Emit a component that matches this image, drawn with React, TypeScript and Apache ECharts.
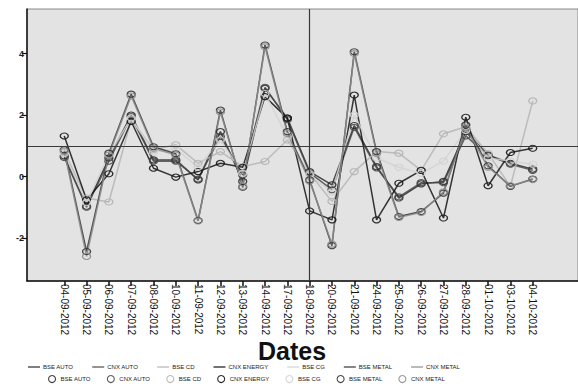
import React, { useEffect, useRef } from "react";
import * as echarts from "echarts";

const dates = [
  "04-09-2012", "05-09-2012", "06-09-2012", "07-09-2012", "08-09-2012", "10-09-2012",
  "11-09-2012", "12-09-2012", "13-09-2012", "14-09-2012", "17-09-2012", "18-09-2012",
  "20-09-2012", "21-09-2012", "24-09-2012", "25-09-2012", "26-09-2012", "27-09-2012",
  "28-09-2012", "01-10-2012", "03-10-2012", "04-10-2012",
];

const bseAuto = [0.67, -0.97, 0.6, 2.0, 0.54, 0.54, -0.11, 1.46, -0.16, 2.87, 1.9, 0.16, -0.27, 1.66, 0.32, -0.7, -0.24, -0.16, 1.46, 0.7, 0.43, 0.24];
const cnxAuto = [0.62, -1.0, 0.5, 1.95, 0.5, 0.5, -0.08, 1.3, 0.05, 2.9, 1.85, 0.12, -0.43, 1.6, 0.28, -0.66, -0.2, -0.2, 1.32, 0.68, 0.4, 0.2];
const bseCd = [0.8, -0.7, -0.83, 1.85, 0.87, 1.03, 0.43, 0.81, 0.32, 0.49, 1.19, 0.1, -0.81, 0.16, 0.81, 0.76, 0.2, 1.39, 1.62, 0.75, -0.32, 2.46];
const cnxEnergy = [1.32, -0.76, 0.09, 1.79, 0.27, -0.02, 0.16, 0.43, 0.3, 2.6, 1.9, -1.12, -1.41, 2.65, -1.41, -0.22, 0.2, -1.35, 1.93, -0.3, 0.78, 0.92];
const bseCg = [0.75, -0.85, 0.7, 1.9, 0.8, 0.9, 0.3, 1.19, 0.1, 2.7, 1.3, 0.05, -0.5, 2.0, 0.6, 0.3, 0.1, 0.5, 1.5, 0.6, 0.5, 0.4];
const bseMetal = [0.87, -2.44, 0.76, 2.68, 0.97, 0.74, -1.43, 2.16, -0.35, 4.28, 1.46, -0.11, -2.25, 4.06, 0.81, -1.3, -1.14, -0.54, 1.68, 0.35, -0.32, -0.08];
const cnxMetal = [0.83, -2.6, 0.7, 2.62, 0.92, 0.7, -1.45, 2.1, -0.32, 4.22, 1.4, -0.15, -2.2, 4.0, 0.75, -1.33, -1.17, -0.5, 1.58, 0.3, -0.3, -0.1];

const seriesNames = ["BSE AUTO", "CNX AUTO", "BSE CD", "CNX ENERGY", "BSE CG", "BSE METAL", "CNX METAL"];
const seriesValues = [bseAuto, cnxAuto, bseCd, cnxEnergy, bseCg, bseMetal, cnxMetal];
const lineColors = ["#2a2a2a", "#4a4a4a", "#b4b4b4", "#151515", "#d2d2d2", "#333333", "#8c8c8c"];

const yTicks = [-2, 0, 2, 4];
const refY = 1;
const refDate = "18-09-2012";
const axisTitle = "Dates";

const FONT = "'Liberation Sans', Arial, sans-serif";

export default function App() {
  const ref = useRef<HTMLDivElement>(null);

  useEffect(() => {
    if (!ref.current) return;
    const chart = echarts.init(ref.current, undefined, { renderer: "svg" });
    const idx = dates.map((_, i) => i);

    const lineSeries = seriesNames.map((name, s) => ({
      name: "L:" + name,
      type: "line",
      symbol: "none",
      data: seriesValues[s].map((v, i) => [i, v]),
      lineStyle: { color: lineColors[s], width: 1.5, opacity: 0.85 },
      itemStyle: { color: lineColors[s] },
      z: 3,
      ...(s === 0
        ? {
            markLine: {
              silent: true,
              symbol: "none",
              label: { show: false },
              lineStyle: { color: "#3a3a3a", width: 1.2, type: "solid", opacity: 1 },
              data: [{ yAxis: refY }, { xAxis: dates.indexOf(refDate) }],
            },
          }
        : {}),
    }));

    const markerSeries = seriesNames.map((name, s) => ({
      name: "M:" + name,
      type: "scatter",
      symbol: "circle",
      symbolSize: [8, 6],
      data: seriesValues[s].map((v, i) => [i, v]),
      itemStyle: { color: "rgba(0,0,0,0)", borderColor: lineColors[s], borderWidth: 1.2, opacity: 0.9 },
      z: 4,
    }));

    chart.setOption({
      animation: false,
      backgroundColor: "#ffffff",
      title: {
        text: axisTitle,
        left: 258,
        top: 338,
        padding: 0,
        textStyle: { fontFamily: FONT, fontWeight: "bold", fontSize: 25, color: "#111" },
      },
      grid: {
        left: 27,
        top: 9,
        right: -10,
        bottom: 109,
        show: true,
        backgroundColor: "#e3e3e3",
        borderColor: "#8a8a8a",
        borderWidth: 1,
      },
      legend: [
        {
          data: seriesNames.map((n) => "L:" + n),
          formatter: (n: string) => n.slice(2),
          left: 28,
          top: 364,
          padding: 0,
          icon: "path://M0,0H20V2H0Z",
          itemWidth: 12,
          itemHeight: 1.5,
          itemGap: 19,
          textStyle: { fontFamily: FONT, fontSize: 6, color: "#222", padding: [0, 0, 0, -2] },
        },
        {
          data: seriesNames.map((n) => "M:" + n),
          formatter: (n: string) => n.slice(2),
          left: 48,
          top: 375,
          padding: 0,
          icon: "circle",
          itemWidth: 7,
          itemHeight: 7,
          itemGap: 16,
          itemStyle: { color: "rgba(0,0,0,0)", borderColor: "inherit", borderWidth: 1.1 },
          textStyle: { fontFamily: FONT, fontSize: 6, color: "#222" },
        },
      ],
      xAxis: {
        type: "value",
        min: -1.67,
        max: 23.03,
        splitLine: { show: false },
        axisLine: { show: true, onZero: false, lineStyle: { color: "#111", width: 1.5 } },
        axisTick: { show: true, customValues: idx, length: 5, lineStyle: { color: "#111", width: 1.5 } },
        axisLabel: {
          customValues: idx,
          rotate: -90,
          margin: 3,
          fontFamily: FONT,
          fontSize: 10,
          color: "#111",
          formatter: (v: number) => dates[Math.round(v)] ?? "",
        },
      },
      yAxis: {
        type: "value",
        min: -3.4,
        max: 5.45,
        splitLine: { show: false },
        axisLine: { show: true, onZero: false, lineStyle: { color: "#111", width: 1.5 } },
        axisTick: { show: true, customValues: yTicks, length: 5, lineStyle: { color: "#111", width: 1.2 } },
        axisLabel: {
          customValues: yTicks,
          margin: 3,
          fontFamily: FONT,
          fontWeight: "bold",
          fontSize: 9,
          color: "#222",
        },
      },
      series: [...lineSeries, ...markerSeries],
    });

    return () => chart.dispose();
  }, []);

  return (
    <div
      ref={ref}
      style={{ position: "absolute", left: 0, top: 0, width: 578, height: 390, background: "#fff" }}
    />
  );
}
